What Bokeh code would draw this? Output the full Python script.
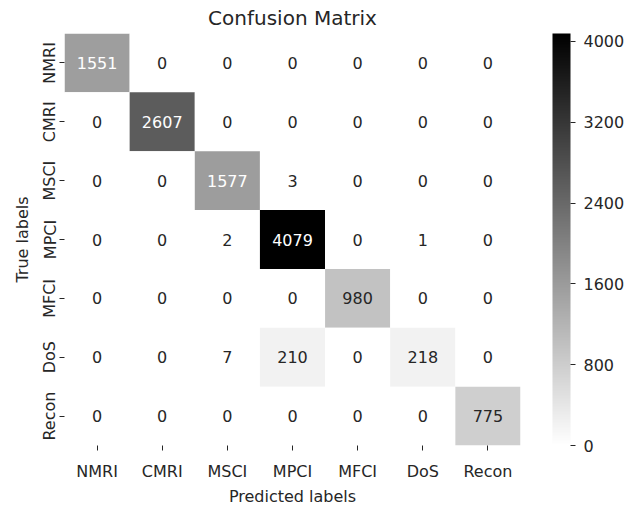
import numpy as np
from bokeh.plotting import figure
from bokeh.models import ColumnDataSource, LinearColorMapper, ColorBar, FixedTicker
from bokeh.palettes import Greys256
from bokeh.transform import transform
from bokeh.core.properties import value
from bokeh.embed import file_html
from bokeh.resources import INLINE

labels = ["NMRI", "CMRI", "MSCI", "MPCI", "MFCI", "DoS", "Recon"]
row_nmri = [1551, 0, 0, 0, 0, 0, 0]
row_cmri = [0, 2607, 0, 0, 0, 0, 0]
row_msci = [0, 0, 1577, 3, 0, 0, 0]
row_mpci = [0, 0, 2, 4079, 0, 1, 0]
row_mfci = [0, 0, 0, 0, 980, 0, 0]
row_dos = [0, 0, 7, 210, 0, 218, 0]
row_recon = [0, 0, 0, 0, 0, 0, 775]
cbar_ticks = [0, 800, 1600, 2400, 3200, 4000]

rows = [row_nmri, row_cmri, row_msci, row_mpci, row_mfci, row_dos, row_recon]
vmax = max(max(r) for r in rows)

xs, ys, vs, txt, tcol = [], [], [], [], []
for t, r in zip(labels, rows):
    for pr, v in zip(labels, r):
        xs.append(pr)
        ys.append(t)
        vs.append(v)
        txt.append(str(v))
        tcol.append("#ffffff" if v / vmax > 0.3 else "#262626")

src = ColumnDataSource(dict(pred=xs, true=ys, v=vs, txt=txt, tc=tcol))
mapper = LinearColorMapper(palette=list(reversed(Greys256)), low=0, high=vmax)

FONT = "DejaVu Sans"
TXT = "#262626"

p = figure(x_range=labels, y_range=list(reversed(labels)),
           frame_width=456, frame_height=412,
           min_border_left=64, min_border_top=29, min_border_bottom=50, min_border_right=10,
           output_backend="svg", toolbar_location=None, title="Confusion Matrix")

p.rect(x="pred", y="true", width=1, height=1, source=src,
       fill_color=transform("v", mapper), line_color=None)
p.text(x="pred", y="true", text="txt", source=src, text_align="center",
       text_baseline="middle", text_color="tc", text_font_size="16px",
       text_font=value(FONT))

p.title.align = "center"
p.title.text_font = FONT
p.title.text_font_size = "20px"
p.title.text_font_style = "normal"
p.title.text_color = TXT
p.title.standoff = 7

p.outline_line_color = None
p.grid.grid_line_color = None
for ax in (p.xaxis, p.yaxis):
    ax.axis_line_color = None
    ax.major_tick_in = 0
    ax.major_tick_out = 5
    ax.major_tick_line_color = TXT
    ax.minor_tick_line_color = None
    ax.major_label_text_font = FONT
    ax.major_label_text_font_size = "16px"
    ax.major_label_text_color = TXT
    ax.axis_label_text_font = FONT
    ax.axis_label_text_font_size = "16px"
    ax.axis_label_text_font_style = "normal"
    ax.axis_label_text_color = TXT
p.xaxis.major_label_standoff = 11
p.xaxis.axis_label_standoff = 3
p.yaxis.major_label_standoff = 0
p.yaxis.axis_label_standoff = 6
p.xaxis.axis_label = "Predicted labels"
p.yaxis.axis_label = "True labels"
p.yaxis.major_label_orientation = "vertical"

cb = ColorBar(color_mapper=mapper, ticker=FixedTicker(ticks=cbar_ticks),
              width=18, height=412, margin=0, padding=0, location=(32, 0),
              major_tick_in=0, major_tick_out=5, major_tick_line_color=TXT,
              bar_line_color=None, border_line_color=None,
              background_fill_color=None, label_standoff=8,
              major_label_text_font=FONT, major_label_text_font_size="16px",
              major_label_text_color=TXT)
p.add_layout(cb, "right")

open("out.html", "w").write(file_html(p, INLINE))
